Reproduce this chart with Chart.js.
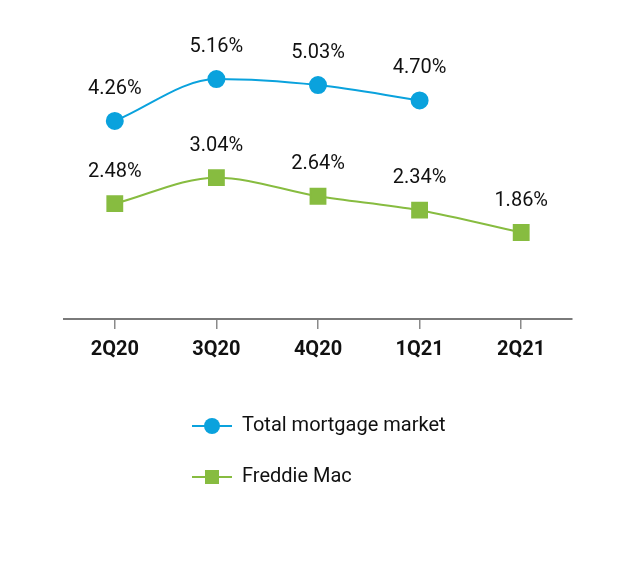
<!DOCTYPE html>
<html>
<head>
<meta charset="utf-8">
<script src="https://cdn.jsdelivr.net/npm/chart.js@4"></script>
<style>
  html, body { margin: 0; padding: 0; background: #fff; }
  #wrap { width: 636px; height: 576px; }
</style>
</head>
<body>
<div id="wrap"><canvas id="grafico" width="636" height="576"></canvas></div>
<script>
// datos del gráfico
const trimestres = ['2Q20', '3Q20', '4Q20', '1Q21', '2Q21'];
const mercadoTotal = [4.26, 5.16, 5.03, 4.70, null];
const freddieMac = [2.48, 3.04, 2.64, 2.34, 1.86];
const nombresSeries = ['Total mortgage market', 'Freddie Mac'];

const AZUL = '#0aa2dd';
const VERDE = '#87bc40';
const FUENTE = 'Roboto, "Liberation Sans", Arial, sans-serif';

// etiquetas de valor encima de cada punto
const etiquetasValor = {
    id: 'etiquetasValor',
    afterDatasetsDraw(chart) {
        const ctx = chart.ctx;
        ctx.save();
        ctx.font = '20px ' + FUENTE;
        ctx.fillStyle = '#111';
        ctx.textAlign = 'center';
        ctx.textBaseline = 'middle';
        chart.data.datasets.forEach((ds, i) => {
            const meta = chart.getDatasetMeta(i);
            meta.data.forEach((pt, j) => {
                const v = ds.data[j];
                if (v === null || v === undefined) return;
                ctx.fillText(v.toFixed(2) + '%', pt.x, pt.y - 32);
            });
        });
        ctx.restore();
    }
};

// leyenda vertical con línea y marcador
const leyendaAbajo = {
    id: 'leyendaAbajo',
    afterDraw(chart) {
        const ctx = chart.ctx;
        const area = chart.chartArea;
        const x0 = area.left + 128;
        let y = area.bottom + 107;
        ctx.save();
        chart.data.datasets.forEach((ds) => {
            ctx.strokeStyle = ds.borderColor;
            ctx.lineWidth = 2;
            ctx.beginPath();
            ctx.moveTo(x0, y);
            ctx.lineTo(x0 + 40, y);
            ctx.stroke();
            ctx.fillStyle = ds.pointBackgroundColor;
            if (ds.pointStyle === 'rect') {
                ctx.fillRect(x0 + 13, y - 7, 14, 14);
            } else {
                ctx.beginPath();
                ctx.arc(x0 + 20, y, 8, 0, Math.PI * 2);
                ctx.fill();
            }
            ctx.fillStyle = '#111';
            ctx.font = '20px ' + FUENTE;
            ctx.textAlign = 'left';
            ctx.textBaseline = 'middle';
            ctx.fillText(ds.label, x0 + 50, y);
            y += 51;
        });
        ctx.restore();
    }
};

function inicializarGrafico() {
    const canvas = document.getElementById('grafico');
    if (!canvas) return;

    new Chart(canvas, {
        type: 'line',
        data: {
            labels: trimestres,
            datasets: [{
                label: nombresSeries[0],
                data: mercadoTotal,
                borderColor: AZUL,
                backgroundColor: AZUL,
                pointBackgroundColor: AZUL,
                pointBorderColor: AZUL,
                pointStyle: 'circle',
                pointRadius: 8,
                borderWidth: 2,
                cubicInterpolationMode: 'monotone',
                fill: false
            }, {
                label: nombresSeries[1],
                data: freddieMac,
                borderColor: VERDE,
                backgroundColor: VERDE,
                pointBackgroundColor: VERDE,
                pointBorderColor: VERDE,
                pointStyle: 'rect',
                pointRadius: 10.5,
                borderWidth: 2,
                cubicInterpolationMode: 'monotone',
                fill: false
            }]
        },
        options: {
            responsive: false,
            animation: false,
            layout: { padding: { top: 40, left: 64, right: 64, bottom: 205 } },
            plugins: {
                legend: { display: false },
                tooltip: { enabled: false }
            },
            scales: {
                x: {
                    offset: true,
                    grid: {
                        drawOnChartArea: false,
                        drawTicks: true,
                        tickLength: 10,
                        color: '#8a8a8a',
                        lineWidth: 1.5
                    },
                    border: { color: '#7a7a7a', width: 2 },
                    ticks: {
                        color: '#111',
                        padding: 9,
                        font: { family: FUENTE, size: 20, weight: 'bold' }
                    }
                },
                y: {
                    display: false,
                    min: 0,
                    max: 6
                }
            }
        },
        plugins: [etiquetasValor, leyendaAbajo]
    });
}

document.addEventListener('DOMContentLoaded', inicializarGrafico);
</script>
</body>
</html>
